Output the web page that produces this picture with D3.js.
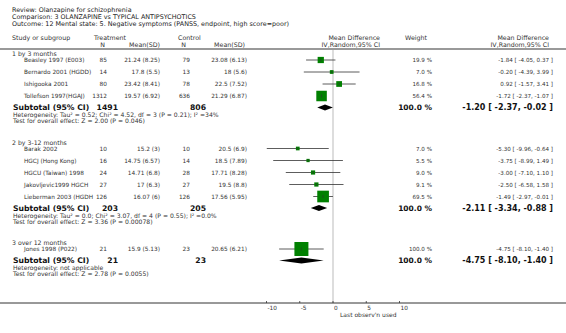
<!DOCTYPE html>
<html>
<head>
<meta charset="utf-8">
<script src="https://cdn.jsdelivr.net/npm/d3@7"></script>
<style>
  body { margin: 0; background: #fff; }
  svg { display: block; font-family: "DejaVu Sans", sans-serif; }
</style>
</head>
<body>
<script>
// ---- data ----
const titleLines = [
  "Review:  Olanzapine for schizophrenia",
  "Comparison:  3 OLANZAPINE vs TYPICAL ANTIPSYCHOTICS",
  "Outcome:  12 Mental state: 5. Negative symptoms (PANSS, endpoint, high score=poor)"
];
const groupNames = ["1 by 3 months", "2 by 3-12 months", "3 over 12 months"];
const studyNames = [
  "Beasley 1997 (E003)", "Bernardo 2001 (HGDD)", "Ishigooka 2001", "Tollefson 1997(HGAJ)",
  "Barak 2002", "HGCJ (Hong Kong)", "HGCU (Taiwan) 1998", "Jakovljevic1999 HGCH", "Lieberman 2003 (HGDH",
  "Jones 1998 (P022)"
];
const studyGroup = [0, 0, 0, 0, 1, 1, 1, 1, 1, 2];
const treatN    = [85, 14, 80, 1312, 10, 16, 24, 27, 126, 21];
const treatMean = [21.24, 17.8, 23.42, 19.57, 15.2, 14.75, 14.71, 17, 16.07, 15.9];
const treatSD   = [8.25, 5.5, 8.41, 6.92, 3, 6.57, 6.8, 6.3, 6, 5.13];
const ctrlN     = [79, 13, 78, 636, 10, 14, 28, 27, 126, 23];
const ctrlMean  = [23.08, 18, 22.5, 21.29, 20.5, 18.5, 17.71, 19.5, 17.56, 20.65];
const ctrlSD    = [6.13, 5.6, 7.52, 6.87, 6.9, 7.89, 8.28, 8.8, 5.95, 6.21];
const weights   = [19.9, 7.0, 16.8, 56.4, 7.0, 5.5, 9.0, 9.1, 69.5, 100.0];
const md        = [-1.84, -0.20, 0.92, -1.72, -5.30, -3.75, -3.00, -2.50, -1.49, -4.75];
const ciLow     = [-4.05, -4.39, -1.57, -2.37, -9.96, -8.99, -7.10, -6.58, -2.97, -8.10];
const ciHigh    = [0.37, 3.99, 3.41, -1.07, -0.64, 1.49, 1.10, 1.58, -0.01, -1.40];

const subTreatN = [1491, 203, 21];
const subCtrlN  = [806, 205, 23];
const subMD     = [-1.20, -2.11, -4.75];
const subLow    = [-2.37, -3.34, -8.10];
const subHigh   = [-0.02, -0.88, -1.40];
const hetText = [
  "Heterogeneity: Tau² = 0.52; Chi² = 4.52, df = 3 (P = 0.21); I² =34%",
  "Heterogeneity: Tau² = 0.0; Chi² = 3.07, df = 4 (P = 0.55); I² =0.0%",
  "Heterogeneity: not applicable"
];
const testText = [
  "Test for overall effect: Z = 2.00 (P = 0.046)",
  "Test for overall effect: Z = 3.36 (P = 0.00078)",
  "Test for overall effect: Z = 2.78 (P = 0.0055)"
];
const axisTicks = [-10, -5, 0, 5, 10];
const axisLabel = "Last observ'n used";

// ---- layout ----
const W = 566, H = 333;
const svg = d3.select("body").append("svg").attr("width", W).attr("height", H);
const txt = "#333";

const x = d3.scaleLinear().domain([-10, 10]).range([266.5, 399.5]);
const col = {name: 24, group: 12, tN: 107, tM: 160, cN: 190, cM: 247, w: 432, ci: 553};

function text(xp, yp, s, opt = {}) {
  return svg.append("text")
    .attr("x", xp).attr("y", yp)
    .attr("font-size", opt.size || 5.8)
    .attr("font-weight", opt.bold ? "bold" : null)
    .attr("text-anchor", opt.anchor || "start")
    .attr("fill", opt.fill || txt)
    .text(s);
}
const ciStr = (m, l, h) => `${m.toFixed(2)} [ ${l.toFixed(2)}, ${h.toFixed(2)} ]`;

// title
titleLines.forEach((t, i) => text(12, 12 + i * 7, t, {size: 6.4, fill: "#222"}));

// column headers
text(12, 40, "Study or subgroup", {size: 6.3});
text(94, 40, "Treatment", {size: 6.3});
text(col.tN - 2, 47, "N", {size: 6.3, anchor: "end"});
text(col.tM, 47, "Mean(SD)", {size: 6.3, anchor: "end"});
text(178, 40, "Control", {size: 6.3});
text(col.cN - 4, 47, "N", {size: 6.3, anchor: "end"});
text(col.cM - 2, 47, "Mean(SD)", {size: 6.3, anchor: "end"});
text(380, 40, "Mean Difference", {size: 6.3, anchor: "end"});
text(380, 47, "IV,Random,95% CI", {size: 6.3, anchor: "end"});
text(427, 40, "Weight", {size: 6.3, anchor: "end"});
text(549, 40, "Mean Difference", {size: 6.3, anchor: "end"});
text(549, 47, "IV,Random,95% CI", {size: 6.3, anchor: "end"});

svg.append("line").attr("x1", 0).attr("x2", W).attr("y1", 49).attr("y2", 49)
  .attr("stroke", "#999").attr("stroke-width", 2);

// zero line
svg.append("line").attr("x1", x(0)).attr("x2", x(0)).attr("y1", 50).attr("y2", 303)
  .attr("stroke", "#bbb").attr("stroke-width", 1);

// rows
const green = "#008000";
let y = 54;
groupNames.forEach((g, gi) => {
  text(col.group, y + 2, g, {size: 6.2});
  y += 6;
  studyNames.forEach((s, i) => {
    if (studyGroup[i] !== gi) return;
    text(col.name, y + 2.2, s);
    text(col.tN, y + 2.2, treatN[i], {anchor: "end"});
    text(col.tM, y + 2.2, `${treatMean[i]} (${treatSD[i]})`, {anchor: "end"});
    text(col.cN, y + 2.2, ctrlN[i], {anchor: "end"});
    text(col.cM, y + 2.2, `${ctrlMean[i]} (${ctrlSD[i]})`, {anchor: "end"});
    text(col.w, y + 2.2, `${weights[i].toFixed(1)} %`, {anchor: "end", size: 5.6});
    text(col.ci, y + 2.2, ciStr(md[i], ciLow[i], ciHigh[i]), {anchor: "end", size: 5.6});
    svg.append("line").attr("x1", x(ciLow[i])).attr("x2", x(ciHigh[i]))
      .attr("y1", y).attr("y2", y).attr("stroke", "#333").attr("stroke-width", 0.8);
    const side = 14 * Math.sqrt(weights[i] / 100);
    svg.append("rect").attr("x", x(md[i]) - side / 2).attr("y", y - side / 2)
      .attr("width", side).attr("height", side).attr("fill", green);
    svg.append("line").attr("x1", x(md[i])).attr("x2", x(md[i]))
      .attr("y1", y - 1.5).attr("y2", y + 1.5).attr("stroke", "#333").attr("stroke-width", 0.6);
    y += 12;
  });
  y -= 0.5;
  text(13, y + 2.6, "Subtotal (95% CI)", {bold: true, size: 7.7, fill: "#111"});
  text(col.tN + 11, y + 2.6, subTreatN[gi], {bold: true, size: 7.7, anchor: "end", fill: "#111"});
  text(col.cN + 16, y + 2.6, subCtrlN[gi], {bold: true, size: 7.7, anchor: "end", fill: "#111"});
  text(col.w, y + 2.8, "100.0 %", {bold: true, size: 7.5, anchor: "end", fill: "#111"});
  text(col.ci, y + 2.8, ciStr(subMD[gi], subLow[gi], subHigh[gi]), {bold: true, size: 8, anchor: "end", fill: "#111"});
  const d = [[x(subLow[gi]), y], [x(subMD[gi]), y - 3], [x(subHigh[gi]), y], [x(subMD[gi]), y + 3]];
  svg.append("path").attr("d", d3.line()(d) + "Z").attr("fill", "#000");
  text(13, y + 9.5, hetText[gi], {size: 6.1});
  text(13, y + 15.5, testText[gi], {size: 6.1});
  y += 35;
});

// axis
const axisY = 303;
svg.append("line").attr("x1", 0).attr("x2", W).attr("y1", axisY).attr("y2", axisY)
  .attr("stroke", "#333").attr("stroke-width", 1);
const ax = svg.append("g");
ax.selectAll("line").data(axisTicks).join("line")
  .attr("x1", d => x(d)).attr("x2", d => x(d))
  .attr("y1", axisY - 2).attr("y2", axisY).attr("stroke", "#333").attr("stroke-width", 0.8);
ax.selectAll("text").data(axisTicks).join("text")
  .attr("x", d => x(d) + 1).attr("y", axisY + 7)
  .attr("font-size", 5.8).attr("fill", txt)
  .text(d => d);
text(x(0) + 7, axisY + 14, axisLabel, {size: 6});
</script>
</body>
</html>
